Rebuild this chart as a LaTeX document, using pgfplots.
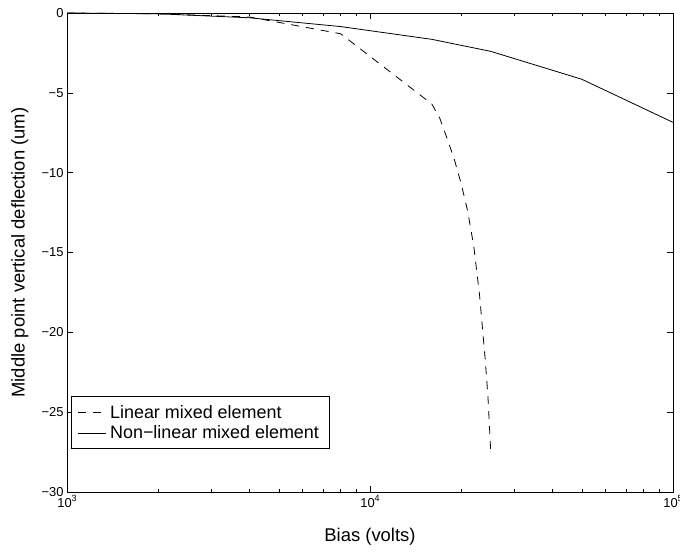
\documentclass[border=0pt]{standalone}
\usepackage{fontspec}
\setmainfont{Liberation Sans}
\usepackage{pgfplots}
\pgfplotsset{compat=1.18}
\begin{document}
\begin{tikzpicture}
\begin{axis}[
  at={(0,0)}, anchor=south west,
  scale only axis, width=606bp, height=479bp,
  xmode=log, xmin=1000, xmax=100000,
  ymin=-30, ymax=0,
  xtick={1000,10000,100000},
  xticklabels={10\raisebox{0.9ex}{\fontsize{9}{9}\selectfont 3},10\raisebox{0.9ex}{\fontsize{9}{9}\selectfont 4},10\raisebox{0.9ex}{\fontsize{9}{9}\selectfont 5}},
  ytick={-30,-25,-20,-15,-10,-5,0},
  yticklabels={−30,−25,−20,−15,−10,−5,0},
  tick align=inside, tick pos=both,
  major tick length=6bp, minor tick length=3bp,
  tick style={black, line width=0.6bp},
  axis line style={line width=0.8bp},
  ticklabel style={font=\fontsize{13}{15}\selectfont},
  label style={font=\fontsize{18.5}{22}\selectfont},
  xlabel={Bias (volts)}, ylabel={Middle point vertical deflection (um)},
  xlabel style={at={(axis description cs:0.5,-0.094)}, anchor=center},
  ylabel style={at={(axis description cs:-0.078,0.5)}, anchor=center},
  legend cell align=left,
  legend style={at={(axis description cs:0.0066,0.0898)}, anchor=south west,
    draw=black, line width=0.6bp, font=\fontsize{18}{21}\selectfont,
    inner xsep=6.5bp, inner ysep=5.5bp, row sep=0bp,
    nodes={inner xsep=3.5bp, inner ysep=3bp}},
  legend image code/.code={\draw[#1] (0bp,0bp) -- (28bp,0bp);},
]
\addplot[black, line width=0.8bp, dash pattern=on 8bp off 7bp] coordinates {
  (1000,0) (2000,-0.05) (4000,-0.25) (8000,-1.3) (16000,-5.7)
  (17000,-6.6) (18000,-7.9) (19000,-9.2) (20000,-10.7) (21000,-12.4)
  (22000,-14.6) (23000,-17.7) (24000,-21.7) (24500,-24.0) (25000,-27.3)
};
\addlegendentry{Linear mixed element}
\addplot[black, line width=0.8bp] coordinates {
  (1000,0) (2000,-0.05) (4000,-0.3) (8000,-0.85) (16000,-1.65)
  (25000,-2.4) (50000,-4.15) (100000,-6.85)
};
\addlegendentry{Non−linear mixed element}
\end{axis}
\pgfresetboundingbox
\path (-67bp,-62bp) rectangle (613bp,492bp);
\end{tikzpicture}
\end{document}
